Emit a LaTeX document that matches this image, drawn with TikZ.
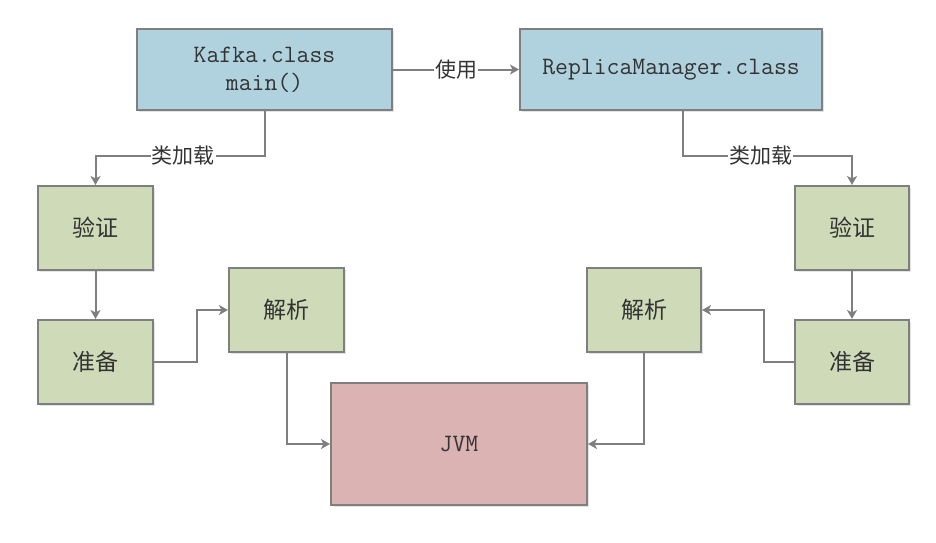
\documentclass[tikz,border=0pt]{standalone}
\usepackage{fontspec}
\newfontfamily\cjk{Noto Sans CJK SC}
\usetikzlibrary{arrows.meta,shadows}
\definecolor{boxblue}{HTML}{B0D2DE}
\definecolor{boxgreen}{HTML}{CFDBB8}
\definecolor{boxpink}{HTML}{DBB3B3}
\definecolor{edgegray}{HTML}{7F7F7F}
\definecolor{txtgray}{HTML}{333333}
\tikzset{
  box/.style={draw=edgegray, line width=2pt, text=txtgray, align=center, inner sep=0pt,
    drop shadow={shadow xshift=1.5pt, shadow yshift=-1.5pt, fill=black!30, opacity=0.35}},
  ttbox/.style={box, font=\ttfamily\fontsize{25}{28}\selectfont},
  cjkbox/.style={box, font=\cjk\fontsize{23}{28}\selectfont},
  conn/.style={draw=edgegray, line width=2pt, -{Stealth[length=9pt,width=10pt,inset=2.5pt]}},
  lbl/.style={fill=white, text=txtgray, font=\cjk\fontsize{21}{24}\selectfont, inner sep=1pt}
}
\begin{document}
\begin{tikzpicture}[x=1pt,y=-1pt]
\useasboundingbox (0,0) rectangle (936,542);
\node[ttbox, fill=boxblue, minimum width=255pt, minimum height=81pt] (kafka) at (264.5,69.5) {Kafka.class\\main()};
\node[ttbox, fill=boxblue, minimum width=302pt, minimum height=81pt] (replica) at (671,69.5) {ReplicaManager.class};
\node[cjkbox, fill=boxgreen, minimum width=115pt, minimum height=84pt] (lv) at (95.5,228) {验证};
\node[cjkbox, fill=boxgreen, minimum width=115pt, minimum height=84pt] (lp) at (95.5,362) {准备};
\node[cjkbox, fill=boxgreen, minimum width=115pt, minimum height=84pt] (lj) at (286.5,310) {解析};
\node[ttbox, fill=boxpink, minimum width=256pt, minimum height=122pt] (jvm) at (459,444) {JVM};
\node[cjkbox, fill=boxgreen, minimum width=114pt, minimum height=84pt] (rj) at (644,310) {解析};
\node[cjkbox, fill=boxgreen, minimum width=114pt, minimum height=84pt] (rv) at (852,228) {验证};
\node[cjkbox, fill=boxgreen, minimum width=114pt, minimum height=84pt] (rp) at (852,362) {准备};

\draw[conn] (kafka.east) -- (replica.west) node[midway, lbl] {使用};
\draw[conn] (kafka.south) -- ++(0,45) -| (lv.north) node[pos=0.24, lbl] {类加载};
\draw[conn] ([xshift=12pt]replica.south) -- ++(0,45) -| (rv.north) node[pos=0.23, lbl] {类加载};
\draw[conn] (lv) -- (lp);
\draw[conn] (rv) -- (rp);
\draw[conn] (lp.east) -- ++(43,0) |- (lj.west);
\draw[conn] (rp.west) -- ++(-30,0) |- (rj.east);
\draw[conn] (lj.south) |- (jvm.west);
\draw[conn] (rj.south) |- (jvm.east);
\end{tikzpicture}
\end{document}
